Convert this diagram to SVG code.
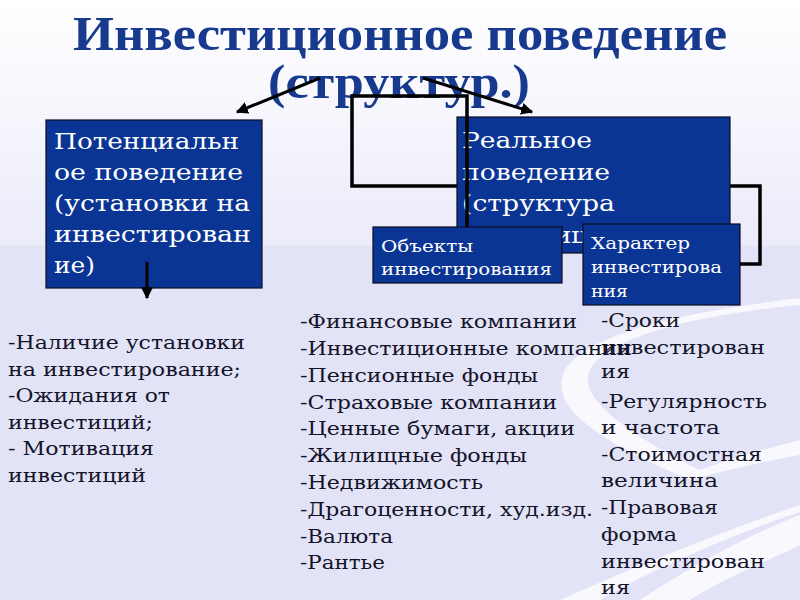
<svg xmlns="http://www.w3.org/2000/svg" width="800" height="600" viewBox="0 0 800 600">
<defs>
<linearGradient id="bgTop" x1="0" y1="0" x2="0" y2="1">
<stop offset="0" stop-color="#ffffff"/>
<stop offset="1" stop-color="#ebebfa"/>
</linearGradient>
<clipPath id="gap">
<rect x="562" y="222" width="21" height="31"/>
</clipPath>
<marker id="ah" viewBox="0 0 10 10" refX="9" refY="5" markerWidth="4" markerHeight="4" orient="auto">
<path d="M0,0 L10,5 L0,10 z" fill="#000"/>
</marker>
<style>
.title{font-family:"Liberation Serif","Times New Roman",serif;font-weight:bold;font-size:48px;fill:#173a8e;text-anchor:middle}
.box{fill:#0b3594;stroke:#0a0a20;stroke-width:1.2}
.bt{font-family:"DejaVu Serif",serif;font-size:23px;fill:#ffffff}
.st{font-family:"DejaVu Serif",serif;font-size:16px;fill:#ffffff}
.lt{font-family:"DejaVu Serif",serif;font-size:18px;fill:#141428}
.conn{fill:none;stroke:#000;stroke-width:3.5}
.arr{fill:none;stroke:#000;stroke-width:3;marker-end:url(#ah)}
.sw{fill:#ffffff;opacity:0.75}
</style>
</defs>
<g id="background">
<rect x="0" y="0" width="800" height="246" fill="url(#bgTop)"/>
<rect x="0" y="246" width="800" height="354" fill="#e3e3f8"/>
<path class="sw" d="M800,305 C700,315 610,335 590,370 C575,400 640,440 700,470 C740,455 780,445 800,440 L800,455 C760,462 720,472 690,480 C610,445 545,410 565,370 C590,330 700,310 800,298 Z"/>
<path class="sw" d="M640,600 C700,560 760,530 800,515 L800,545 C770,560 720,580 690,600 Z"/>
<path class="sw" opacity="0.4" d="M560,600 C650,560 740,525 800,505 L800,512 C740,532 660,565 600,600 Z"/>
</g>
<g id="title">
<text class="title" x="400" y="50" textLength="654" lengthAdjust="spacingAndGlyphs">Инвестиционное поведение</text>
<text class="title" x="399" y="98" textLength="262" lengthAdjust="spacingAndGlyphs">(структур.)</text>
</g>
<g id="connectors">
<line class="arr" x1="320" y1="78" x2="237" y2="112"/>
<line class="arr" x1="423" y1="78" x2="532" y2="112"/>
<path class="conn" d="M457,186 H352 V96 H467 V228"/>
<path class="conn" d="M730,186 H760 V264 H740"/>
</g>
<g id="potential">
<rect class="box" x="46" y="120" width="216" height="168"/>
<text class="bt" x="54" y="149" textLength="185" lengthAdjust="spacingAndGlyphs">Потенциальн</text>
<text class="bt" x="54" y="180" textLength="189" lengthAdjust="spacingAndGlyphs">ое поведение</text>
<text class="bt" x="54" y="211" textLength="196" lengthAdjust="spacingAndGlyphs">(установки на</text>
<text class="bt" x="54" y="242" textLength="197" lengthAdjust="spacingAndGlyphs">инвестирован</text>
<text class="bt" x="54" y="273" textLength="41" lengthAdjust="spacingAndGlyphs">ие)</text>
</g>
<g id="down-arrow">
<line class="arr" x1="147" y1="262" x2="147" y2="298"/>
</g>
<g id="real">
<rect class="box" x="457" y="117" width="273" height="136"/>
<text class="bt" x="462" y="148" textLength="130" lengthAdjust="spacingAndGlyphs">Реальное</text>
<text class="bt" x="462" y="180" textLength="148" lengthAdjust="spacingAndGlyphs">поведение</text>
<text class="bt" x="462" y="211" textLength="153" lengthAdjust="spacingAndGlyphs">(структура</text>
<text class="bt" x="462" y="243" textLength="170" lengthAdjust="spacingAndGlyphs" clip-path="url(#gap)">инвестиций)</text>
</g>
<g id="conn-over">
<line class="conn" x1="467" y1="117" x2="467" y2="228"/>
</g>
<g id="objects">
<rect class="box" x="373" y="227" width="189" height="56"/>
<text class="st" x="381" y="252" textLength="92" lengthAdjust="spacingAndGlyphs">Объекты</text>
<text class="st" x="381" y="275" textLength="171" lengthAdjust="spacingAndGlyphs">инвестирования</text>
</g>
<g id="character">
<rect class="box" x="583" y="224" width="157" height="81"/>
<text class="st" x="591" y="249" textLength="99" lengthAdjust="spacingAndGlyphs">Характер</text>
<text class="st" x="591" y="273" textLength="131" lengthAdjust="spacingAndGlyphs">инвестирова</text>
<text class="st" x="591" y="297" textLength="37" lengthAdjust="spacingAndGlyphs">ния</text>
</g>
<g id="list-left">
<text class="lt" x="8" y="349" textLength="237" lengthAdjust="spacingAndGlyphs">-Наличие установки</text>
<text class="lt" x="8" y="376" textLength="233" lengthAdjust="spacingAndGlyphs">на инвестирование;</text>
<text class="lt" x="8" y="402" textLength="162" lengthAdjust="spacingAndGlyphs">-Ожидания от</text>
<text class="lt" x="8" y="429" textLength="145" lengthAdjust="spacingAndGlyphs">инвестиций;</text>
<text class="lt" x="8" y="455" textLength="146" lengthAdjust="spacingAndGlyphs">- Мотивация</text>
<text class="lt" x="8" y="482" textLength="138" lengthAdjust="spacingAndGlyphs">инвестиций</text>
</g>
<g id="list-middle">
<text class="lt" x="300" y="328" textLength="277" lengthAdjust="spacingAndGlyphs">-Финансовые компании</text>
<text class="lt" x="300" y="355" textLength="332" lengthAdjust="spacingAndGlyphs">-Инвестиционные компании</text>
<text class="lt" x="300" y="382" textLength="238" lengthAdjust="spacingAndGlyphs">-Пенсионные фонды</text>
<text class="lt" x="300" y="409" textLength="257" lengthAdjust="spacingAndGlyphs">-Страховые компании</text>
<text class="lt" x="300" y="435" textLength="275" lengthAdjust="spacingAndGlyphs">-Ценные бумаги, акции</text>
<text class="lt" x="300" y="462" textLength="227" lengthAdjust="spacingAndGlyphs">-Жилищные фонды</text>
<text class="lt" x="300" y="489" textLength="183" lengthAdjust="spacingAndGlyphs">-Недвижимость</text>
<text class="lt" x="300" y="516" textLength="293" lengthAdjust="spacingAndGlyphs">-Драгоценности, худ.изд.</text>
<text class="lt" x="300" y="543" textLength="93" lengthAdjust="spacingAndGlyphs">-Валюта</text>
<text class="lt" x="300" y="569" textLength="85" lengthAdjust="spacingAndGlyphs">-Рантье</text>
</g>
<g id="list-right">
<text class="lt" x="601" y="327" textLength="79" lengthAdjust="spacingAndGlyphs">-Сроки</text>
<text class="lt" x="601" y="354" textLength="164" lengthAdjust="spacingAndGlyphs">инвестирован</text>
<text class="lt" x="601" y="378" textLength="29" lengthAdjust="spacingAndGlyphs">ия</text>
<text class="lt" x="601" y="408" textLength="166" lengthAdjust="spacingAndGlyphs">-Регулярность</text>
<text class="lt" x="601" y="434" textLength="119" lengthAdjust="spacingAndGlyphs">и частота</text>
<text class="lt" x="601" y="461" textLength="161" lengthAdjust="spacingAndGlyphs">-Стоимостная</text>
<text class="lt" x="601" y="487" textLength="117" lengthAdjust="spacingAndGlyphs">величина</text>
<text class="lt" x="601" y="514" textLength="117" lengthAdjust="spacingAndGlyphs">-Правовая</text>
<text class="lt" x="601" y="541" textLength="76" lengthAdjust="spacingAndGlyphs">форма</text>
<text class="lt" x="601" y="568" textLength="164" lengthAdjust="spacingAndGlyphs">инвестирован</text>
<text class="lt" x="601" y="594" textLength="29" lengthAdjust="spacingAndGlyphs">ия</text>
</g>
</svg>
